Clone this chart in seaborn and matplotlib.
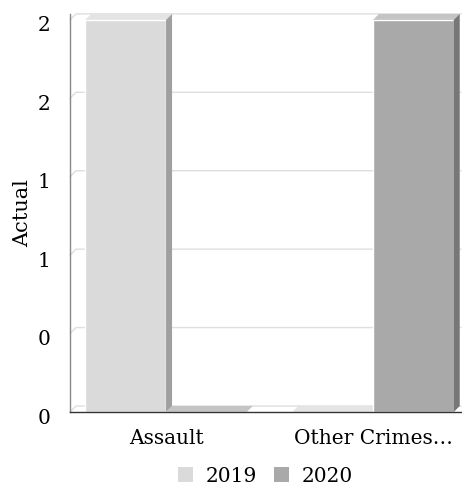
import matplotlib
matplotlib.use("Agg")
import matplotlib.pyplot as plt
from matplotlib.patches import Polygon, Patch
from matplotlib.transforms import ScaledTranslation
import pandas as pd
import seaborn as sns

# data
categories = ["Assault", "Other Crimes…"]
years = ["2019", "2020"]
values_2019 = [2, 0]
values_2020 = [0, 2]
y_ticks = [0, 0.4, 0.8, 1.2, 1.6, 2.0]
y_tick_labels = ["0", "0", "1", "1", "2", "2"]

front_col = {"2019": "#dadada", "2020": "#a9a9a9"}
side_col = {"2019": "#a0a0a0", "2020": "#777777"}
top_col = {"2019": "#e4e4e4", "2020": "#c4c4c4"}

df = pd.DataFrame({
    "category": categories * 2,
    "year": [years[0]] * 2 + [years[1]] * 2,
    "value": values_2019 + values_2020,
})

sns.set_style("white")
plt.rcParams["font.family"] = ["DejaVu Serif"]
fs = 14.5

fig = plt.figure(figsize=(4.62, 4.9), dpi=100)
W, H = 462, 490
ax = fig.add_axes([70 / W, (H - 412) / H, 391 / W, 398 / H])

sns.barplot(data=df, x="category", y="value", hue="year", palette=front_col,
            width=0.78, saturation=1, ax=ax, legend=False, zorder=3)

xmin, xmax = -0.464, 1.425
ax.set_xlim(xmin, xmax)
ax.set_ylim(0, 2.03)

# 3d depth of about 6 px, in data units
def px_to_data(px, py):
    x0, y0 = ax.transData.transform((0, 0))
    return ax.transData.inverted().transform((x0 + px, y0 + py))

dx, dy = px_to_data(6, 6)

# back wall grid lines
for t in y_ticks:
    ax.plot([xmin, xmin + dx, xmax], [t, t + dy, t + dy], color="#dedede", lw=1, zorder=1, clip_on=False)

# side and top faces of the bars
for year, cont in zip(years, ax.containers):
    for bar in cont:
        x, w, h = bar.get_x(), bar.get_width(), bar.get_height()
        z = 2 if h == 0 else 4
        top = Polygon([(x, h), (x + dx, h + dy), (x + w + dx, h + dy), (x + w, h)],
                      closed=True, facecolor=top_col[year], edgecolor="none", zorder=z)
        ax.add_patch(top)
        if h > 0:
            side = Polygon([(x + w, 0), (x + w + dx, dy), (x + w + dx, h + dy), (x + w, h)],
                           closed=True, facecolor=side_col[year], edgecolor="none", zorder=z)
            ax.add_patch(side)

sns.despine(ax=ax, top=True, right=True)
ax.spines["left"].set_color("#888888")
ax.spines["left"].set_linewidth(1)
ax.spines["bottom"].set_color("#333333")
ax.spines["bottom"].set_linewidth(1)
ax.spines["bottom"].set_zorder(5)

ax.set_yticks(y_ticks, y_tick_labels)
ax.tick_params(axis="y", length=0, pad=14, labelsize=fs, labelcolor="black")
ax.tick_params(axis="x", length=0, pad=12, labelsize=fs, labelcolor="black")
for lab in ax.get_yticklabels():
    lab.set_transform(lab.get_transform() + ScaledTranslation(0, -0.04, fig.dpi_scale_trans))

ax.set_xlabel("")
ax.set_ylabel("Actual", fontsize=fs + 0.5, color="black")
ax.yaxis.set_label_coords(-0.097, 0.5)

handles = [Patch(facecolor=front_col[y], edgecolor="none") for y in years]
ax.legend(handles, years, loc="center", bbox_to_anchor=(0.5, -0.161), ncol=2, frameon=False,
          fontsize=fs, handlelength=0.75, handleheight=0.75, handletextpad=0.65, columnspacing=0.8,
          labelcolor="black")

fig.savefig("out.png", dpi=100)
